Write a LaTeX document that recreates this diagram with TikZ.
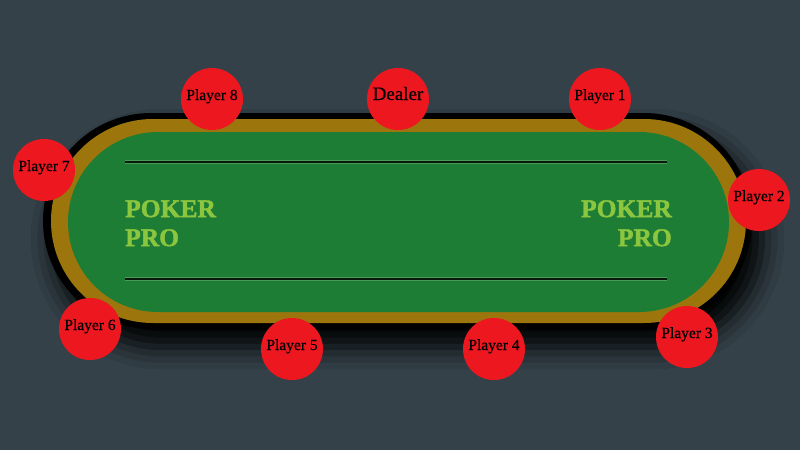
\documentclass[tikz,border=0pt]{standalone}
\usepackage{fontspec}
\setmainfont{Liberation Serif}
\newfontfamily\seatfont[FakeBold=0.35]{Liberation Serif}
\newfontfamily\logofont[FakeBold=1.6]{Liberation Serif}
\usetikzlibrary{positioning,shadows.blur}

\definecolor{roombg}{RGB}{52,65,72}
\definecolor{rimgold}{RGB}{156,118,12}
\definecolor{feltgreen}{RGB}{29,125,52}
\definecolor{seatred}{RGB}{237,23,32}
\definecolor{logogreen}{RGB}{140,198,63}
\definecolor{glowgreen}{RGB}{100,175,110}

\begin{document}
\begin{tikzpicture}[
  x=1pt, y=-1pt,
  seat/.style={circle, fill=seatred, minimum size=62pt, inner sep=0pt,
    text height=0.5em, text depth=0.3em, font=\seatfont\fontsize{15.5}{16}\selectfont},
  logo/.style={inner sep=0pt, text=logogreen, font=\logofont\bfseries\fontsize{25.5}{29}\selectfont},
  feltline/.style={line width=1.4pt, draw=black!80!feltgreen},
  glow/.style={line width=4.5pt, draw=glowgreen, opacity=0.6}
]

% room and table
\fill[roombg] (0,0) rectangle (800,450);
\useasboundingbox (0,0) rectangle (800,450);
\fill[black, rounded corners=108pt,
  blur shadow={shadow xshift=10pt, shadow yshift=-18pt, shadow blur radius=22pt, shadow opacity=100}]
  (43,113) rectangle (752,329);
\fill[rimgold, rounded corners=102pt] (51,119) rectangle (746,323);
\fill[feltgreen, rounded corners=90pt] (68,132) rectangle (729,312);

% felt lines
\coordinate (topA) at (125,162);
\coordinate (topB) at (667,162);
\coordinate (botA) at (125,279);
\coordinate (botB) at (667,279);
\draw[glow] (topA) -- (topB);
\draw[glow] (botA) -- (botB);
\draw[feltline] (topA) -- (topB);
\draw[feltline] (botA) -- (botB);

% logo
\node[logo, anchor=north west, align=left] (logoL) at (125,200) {POKER\\PRO};
\node[logo, anchor=north east, align=right] (logoR) at (672,200) {POKER\\PRO};

% seats
\node[seat, font=\seatfont\fontsize{19}{20}\selectfont] (dealer) at (398,99) {Dealer};
\node[seat] (p1) at (600,99) {Player 1};
\node[seat] (p2) at (759,200) {Player 2};
\node[seat] (p3) at (687,337) {Player 3};
\node[seat] (p4) at (494,349) {Player 4};
\node[seat] (p5) at (292,349) {Player 5};
\node[seat] (p6) at (90,329) {Player 6};
\node[seat] (p7) at (44,170) {Player 7};
\node[seat] (p8) at (212,99) {Player 8};

\end{tikzpicture}
\end{document}
